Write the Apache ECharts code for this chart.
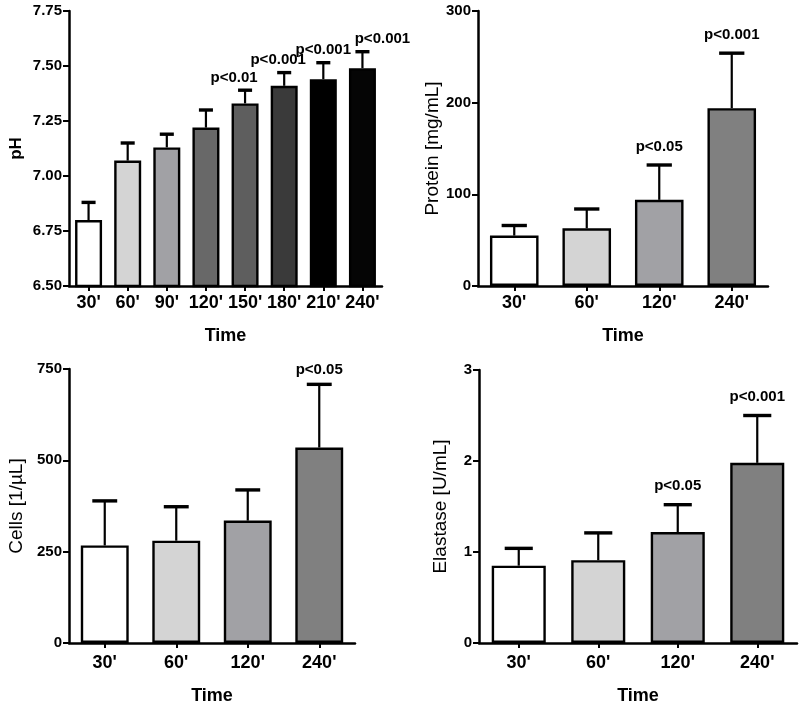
<!DOCTYPE html>
<html>
<head>
<meta charset="utf-8">
<script src="https://cdn.jsdelivr.net/npm/echarts@6/dist/echarts.min.js"></script>
<style>html,body{margin:0;padding:0;background:#fff}#c{width:800px;height:708px}</style>
</head>
<body>
<div id="c"></div>
<script>
// ---------- DATA ----------
const phCategories = ["30'", "60'", "90'", "120'", "150'", "180'", "210'", "240'"];
const phMean  = [6.80, 7.07, 7.13, 7.22, 7.33, 7.41, 7.44, 7.49];
const phUpper = [6.88, 7.15, 7.19, 7.30, 7.39, 7.47, 7.515, 7.565];
const phP     = ["", "", "", "", "p<0.01", "p<0.001", "p<0.001", "p<0.001"];
const phTicks = [6.50, 6.75, 7.00, 7.25, 7.50, 7.75];

const sampleCategories = ["30'", "60'", "120'", "240'"];

const proteinMean  = [55, 63, 94, 194];
const proteinUpper = [66, 84, 132, 254];
const proteinP     = ["", "", "p<0.05", "p<0.001"];
const proteinTicks = [0, 100, 200, 300];

const cellsMean  = [267, 280, 335, 535];
const cellsUpper = [389, 373, 419, 708];
const cellsP     = ["", "", "", "p<0.05"];
const cellsTicks = [0, 250, 500, 750];

const elastaseMean  = [0.85, 0.91, 1.22, 1.98];
const elastaseUpper = [1.04, 1.21, 1.52, 2.50];
const elastaseP     = ["", "", "p<0.05", "p<0.001"];
const elastaseTicks = [0, 1, 2, 3];

// ---------- STYLE ----------
const phColors = ['#ffffff', '#d4d4d4', '#a1a1a5', '#686868', '#5e5e5e', '#3a3a3a', '#000000', '#050505'];
const sampleColors = ['#ffffff', '#d4d4d4', '#a1a1a5', '#808080'];
const FONT = '"Liberation Sans", Arial, sans-serif';

const panels = [
  {cats: phCategories, mean: phMean, upper: phUpper, p: phP, ticks: phTicks, colors: phColors,
   name: 'pH', nameGap: 44, grid: {left: 69, top: 11, width: 313, height: 275},
   barRatio: 0.69, pGap: 5, pDx: [0, 0, 0, 0, -11, -6, 0, 20], fmt: v => v.toFixed(2), xNameGap: 41, xMargin: 8},
  {cats: sampleCategories, mean: proteinMean, upper: proteinUpper, p: proteinP, ticks: proteinTicks, colors: sampleColors,
   name: 'Protein [mg/mL]', nameGap: 30, grid: {left: 478, top: 11, width: 290, height: 275},
   barRatio: 0.67, pGap: 11, pDx: [0, 0, 0, 0], fmt: v => String(v), xNameGap: 41, xMargin: 8},
  {cats: sampleCategories, mean: cellsMean, upper: cellsUpper, p: cellsP, ticks: cellsTicks, colors: sampleColors,
   name: 'Cells [1/\u00b5L]', nameGap: 43, grid: {left: 69, top: 369, width: 286, height: 274},
   barRatio: 0.67, pGap: 7, pDx: [0, 0, 0, 0], fmt: v => String(v), xNameGap: 44, xMargin: 11},
  {cats: sampleCategories, mean: elastaseMean, upper: elastaseUpper, p: elastaseP, ticks: elastaseTicks, colors: sampleColors,
   name: 'Elastase [U/mL]', nameGap: 29, grid: {left: 479, top: 370, width: 318, height: 273},
   barRatio: 0.68, pGap: 11, pDx: [0, 0, 0, 0], fmt: v => String(v), xNameGap: 44, xMargin: 11}
];

const grids = [], xAxes = [], yAxes = [], series = [];
panels.forEach((pn, k) => {
  grids.push(Object.assign({containLabel: false, outerBoundsMode: 'none'}, pn.grid));
  xAxes.push({
    type: 'category', gridIndex: k, data: pn.cats,
    name: 'Time', nameLocation: 'middle', nameGap: pn.xNameGap,
    nameTextStyle: {fontFamily: FONT, fontSize: 18, fontWeight: 'bold', color: '#000'},
    axisLine: {lineStyle: {color: '#000', width: 2.5}},
    axisTick: {show: true, alignWithLabel: true, length: 5, lineStyle: {color: '#000', width: 2}},
    axisLabel: {interval: 0, margin: pn.xMargin, fontFamily: FONT, fontSize: 18, fontWeight: 'bold', color: '#000'},
    splitLine: {show: false}
  });
  const tmin = pn.ticks[0], tmax = pn.ticks[pn.ticks.length - 1];
  yAxes.push({
    type: 'value', gridIndex: k, min: tmin, max: tmax, interval: pn.ticks[1] - pn.ticks[0],
    name: pn.name, nameLocation: 'middle', nameGap: pn.nameGap, nameRotate: 90,
    nameTextStyle: {fontFamily: FONT, fontSize: k === 0 ? 17 : 19, fontWeight: k === 0 ? 'bold' : 'normal', color: '#000'},
    axisLine: {show: true, lineStyle: {color: '#000', width: 2.5}},
    axisTick: {show: true, length: 6, lineStyle: {color: '#000', width: 2}},
    axisLabel: {margin: 7, fontFamily: FONT, fontSize: 15, fontWeight: 'bold', color: '#000', formatter: pn.fmt},
    splitLine: {show: false}
  });
  series.push({
    type: 'bar', xAxisIndex: k, yAxisIndex: k,
    barWidth: (pn.barRatio * 100) + '%',
    data: pn.mean.map((v, i) => ({value: v, itemStyle: {color: pn.colors[i]}})),
    itemStyle: {borderColor: '#000', borderWidth: 2.4},
    silent: true, animation: false
  });
  series.push({
    type: 'custom', xAxisIndex: k, yAxisIndex: k, z: 3, clip: false,
    data: pn.mean.map((v, i) => [i, v, pn.upper[i]]),
    renderItem: function (params, api) {
      const i = api.value(0);
      const top = api.coord([i, api.value(1)]);
      const et = api.coord([i, api.value(2)]);
      const band = api.size([1, 0])[0];
      const capW = band * pn.barRatio * 0.52;
      const children = [
        {type: 'line', shape: {x1: top[0], y1: top[1], x2: et[0], y2: et[1]}, style: {stroke: '#000', lineWidth: 2.2}},
        {type: 'line', shape: {x1: et[0] - capW / 2, y1: et[1], x2: et[0] + capW / 2, y2: et[1]}, style: {stroke: '#000', lineWidth: 3.4}}
      ];
      const lab = pn.p[params.dataIndex];
      if (lab) {
        children.push({type: 'text', x: et[0] + pn.pDx[params.dataIndex], y: et[1] - pn.pGap,
          style: {text: lab, fontFamily: FONT, fontSize: 15, fontWeight: 'bold', fill: '#000', align: 'center', verticalAlign: 'bottom'}});
      }
      return {type: 'group', children: children};
    },
    silent: true, animation: false
  });
});

const chart = echarts.init(document.getElementById('c'), null, {renderer: 'canvas'});
chart.setOption({
  backgroundColor: '#ffffff',
  animation: false,
  grid: grids, xAxis: xAxes, yAxis: yAxes, series: series
});
</script>
</body>
</html>
